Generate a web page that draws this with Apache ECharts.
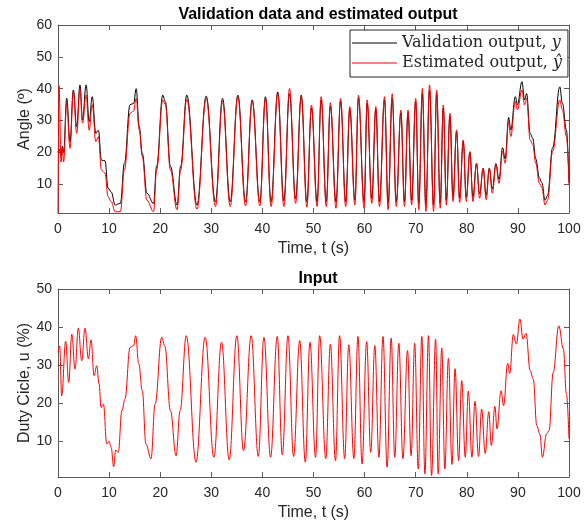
<!DOCTYPE html>
<html>
<head>
<meta charset="utf-8">
<script src="https://cdn.jsdelivr.net/npm/echarts@6/dist/echarts.min.js"></script>
<style>
  html, body { margin: 0; background: #fff; }
  #chart { width: 586px; height: 528px; }
</style>
</head>
<body>
<div id="chart"></div>
<script>
// validation / estimated output (peaks, troughs and bends)
const outT = [0, 0.2, 0.6, 0.85, 1.1, 1.7, 2.35, 3.0, 3.66, 4.3, 4.8, 5.5, 6.1, 6.7, 7.4, 7.9, 8.5, 9.2, 9.8, 10.4,
  11.2, 12.2, 13.0, 14.1, 14.8, 15.3, 15.9, 16.5, 17.4, 18.7, 19.3, 20.5, 21.0, 22.0, 23.3, 24.0, 25.2,
  27.2, 29.0, 30.8, 32.2, 33.7, 35.2, 36.7, 38.0, 39.5, 40.6, 41.7, 43.0, 44.2, 45.3, 46.5, 47.6, 48.7,
  49.6, 50.7, 51.5, 52.5, 53.3, 54.4, 55.3, 56.3, 57.1, 58.1, 58.8, 59.9, 60.5, 61.4, 62.2, 62.9, 63.9, 64.6,
  65.4, 66.2, 67.1, 67.8, 68.5, 69.2, 70.0, 70.6, 71.3, 72.0, 72.7, 73.5, 74.1, 74.8,
  75.4, 76.0, 76.7, 77.3, 78.0, 78.6, 79.3, 79.9, 80.6, 81.2, 81.9, 82.5, 83.2, 83.8, 84.4, 85.0, 85.7, 86.3,
  87.0, 87.5, 88.2, 88.6, 89.5, 89.9, 90.8, 91.3, 91.7, 92.4, 92.9, 93.5, 94.2, 94.7, 95.3, 95.8, 96.8, 98.2,
  98.7, 99.5, 100];
const yMeas = [20, 21, 19, 22, 20, 37, 23.4, 39.6, 28, 41.2, 30.2, 41.2, 29.7, 37.5, 26, 27, 17.6, 17.4, 8.8, 7.6,
  3.5, 4, 16.6, 35, 35.4, 40, 28, 19.7, 7.2, 4, 15.6, 38, 36, 15.6, 3.5, 15.6, 38,
  3.5, 37.7, 4.5, 37, 4.5, 38, 4.5, 36.5, 4.5, 37.5, 4.5, 39, 4.8, 38.5, 5.5, 38, 4.5,
  34, 4.5, 36.5, 4.5, 34.5, 4.5, 36, 4.5, 33.5, 5, 37, 4.5, 35.5, 5.5, 33.5, 4.5, 36.5, 4,
  37, 4.5, 32.5, 4.5, 32.5, 5, 36, 4, 38.5, 3.5, 39.5, 3.5, 38.5, 4,
  34, 5, 31.5, 6, 26.5, 5.8, 23.5, 6, 20, 6, 16.5, 7, 15, 6.5, 15, 8.5, 16.5, 11.5,
  21.5, 18, 31, 27, 37.5, 35, 42.2, 36.5, 38.5, 26, 24.5, 18, 12, 10.5, 5, 6.5, 21.5, 40.6,
  35.5, 27, 10.5];
const yEst = [1.0, 41, 17, 21, 17, 35.4, 21.3, 39, 26, 40, 29.2, 38, 27, 35, 23.4, 25, 14.5, 13.5, 6.1, 4.6,
  1.4, 1.4, 14.5, 32.3, 33, 37, 27, 18.7, 5, 1.4, 14.5, 36.5, 35, 14.5, 2, 14.5, 36.7,
  2.2, 37, 3, 36, 3, 37.5, 3.2, 36.3, 3.2, 37, 3, 38.4, 3, 40.1, 4, 37.5, 2.8,
  34.9, 3, 37.5, 3, 35.6, 2.5, 37, 3, 34.4, 3.5, 38, 2.5, 36.5, 4, 34.4, 3, 37.5, 2,
  38.4, 3, 33.3, 3, 33.3, 3.5, 37, 2, 40.1, 1.5, 41.2, 1.5, 39.6, 2.5,
  34.9, 3.5, 32.3, 4.6, 27.1, 4.3, 23.9, 4.6, 20.3, 4.6, 16.6, 5.6, 15, 5.1, 15, 7.2, 16.1, 10.3,
  20.3, 16.6, 29.7, 25, 36, 33.4, 39.6, 34.9, 37, 23.9, 22.5, 16.6, 10.3, 9, 3.5, 5, 20.3, 36.5,
  33.4, 25, 9.8];

// input duty cycle
const inT = [0, 0.33, 0.72, 1.5, 2.1, 2.7, 3.33, 3.98, 4.64, 5.29, 5.95, 6.47, 7.06, 7.58, 8.04, 8.43, 8.89, 9.54, 10.0, 10.4,
  10.9, 11.3, 11.8, 12.5, 13.1, 14.1, 14.8, 15.2, 15.8, 16.5, 17.2, 18.2, 19.0, 20.3, 20.9, 22.0, 23.1, 23.9, 25.1,
  27.0, 28.8, 30.5, 32.0, 33.5, 35.0, 36.3, 37.8, 39.2, 40.3, 41.6, 42.9, 43.9, 45.0, 46.1, 47.3, 48.4,
  49.3, 50.4, 51.2, 52.4, 53.3, 54.3, 55.1, 56.1, 56.9, 57.9, 58.7, 59.5, 60.4, 61.2, 62.0, 62.8, 63.6, 64.4,
  65.2, 65.9, 66.7, 67.5, 68.4, 69.1, 69.8, 70.5, 71.2, 71.8, 72.5, 73.1, 73.9, 74.4,
  75.1, 75.7, 76.4, 77.1, 77.7, 78.4, 79.0, 79.7, 80.3, 81.0, 81.6, 82.3, 82.9, 83.6, 84.3, 84.8, 85.5, 85.9,
  86.7, 87.2, 88.0, 88.4, 89.1, 89.7, 90.4, 91.0, 91.6, 92.4, 93.0, 93.7, 94.3, 94.8, 95.6, 96.1, 96.9, 98.0,
  98.9, 99.5, 100];
const uIn = [33.3, 35, 21.9, 36.2, 25.4, 38.1, 28.9, 39.7, 31.1, 39.7, 31.6, 36.6, 27.2, 29.8, 25, 18.8, 19.7, 9.2, 9.9, 8.3,
  3.2, 7.6, 7.0, 18, 21, 34.6, 35.1, 37.7, 30.3, 23.2, 9.2, 5.3, 19.7, 37.3, 35, 18, 6.1, 18, 37.7,
  4.4, 37.3, 5.7, 36, 5, 37.7, 7.4, 37.7, 5.9, 37.3, 5.7, 37.5, 6.3, 37.7, 5.9, 36.4, 4.4,
  36, 5.7, 37.7, 5.3, 35.5, 4.8, 37.7, 5.3, 35.3, 5.3, 37.5, 3.9, 36.2, 7, 35.1, 5.7, 37.5, 3.1,
  37.1, 5.7, 35.7, 5.3, 33.8, 6.1, 35.7, 2.6, 37.5, 1.3, 37.7, 0.9, 36.8, 1.3,
  34.5, 2.6, 31.8, 3.8, 29, 4.8, 25.9, 5.7, 23.1, 5.7, 20.4, 5.9, 18.4, 6.7, 17.7, 8.8, 19.1, 13.2,
  23.2, 19.3, 30.4, 27.8, 38, 35.5, 42.1, 36.8, 38.3, 28.5, 26.3, 14, 11.8, 5.7, 11.8, 12.7, 28, 40.3,
  34.2, 22.4, 10.5];

const angleTicks = [10, 20, 30, 40, 50, 60];
const dutyTicks = [10, 20, 30, 40, 50];

const axisCol = '#5a5a5a';
const textCol = '#262626';
const sans = 'Liberation Sans';
const serif = 'DejaVu Serif';

const zip = (t, v) => t.map((x, i) => [x, v[i]]);

function xAxis(grid, pos, withLabels) {
  return {
    type: 'value', gridIndex: grid, position: pos, min: 0, max: 100, interval: 10,
    axisLine: { show: true, onZero: false, lineStyle: { color: axisCol, width: 1 } },
    axisTick: { show: true, inside: true, length: 5, lineStyle: { color: axisCol } },
    axisLabel: { show: withLabels, margin: 9, color: textCol, fontSize: 14, fontFamily: sans },
    splitLine: { show: false },
    name: withLabels ? 'Time, t (s)' : '',
    nameLocation: 'middle', nameGap: 28, nameMoveOverlap: false,
    nameTextStyle: { color: textCol, fontSize: 16, fontFamily: sans }
  };
}

function yAxis(grid, pos, min, max, ticks, title) {
  return {
    type: 'value', gridIndex: grid, position: pos, min: min, max: max,
    axisLine: { show: true, onZero: false, lineStyle: { color: axisCol, width: 1 } },
    axisTick: { show: true, inside: true, length: 5, customValues: ticks, lineStyle: { color: axisCol } },
    axisLabel: { show: !!title, customValues: ticks, margin: 6, color: textCol, fontSize: 14, fontFamily: sans },
    splitLine: { show: false },
    name: title || '',
    nameLocation: 'middle', nameGap: 25, nameMoveOverlap: false,
    nameTextStyle: { color: textCol, fontSize: 16, fontFamily: sans }
  };
}

const chart = echarts.init(document.getElementById('chart'));
chart.setOption({
  animation: false,
  backgroundColor: '#fff',
  title: [
    { text: 'Validation data and estimated output', left: 313, top: 2, textAlign: 'center',
      textStyle: { fontSize: 16, fontWeight: 'bold', color: '#000', fontFamily: sans } },
    { text: 'Input', left: 313, top: 266, textAlign: 'center',
      textStyle: { fontSize: 16, fontWeight: 'bold', color: '#000', fontFamily: sans } }
  ],
  grid: [
    { left: 58, top: 25, width: 511, height: 188 },
    { left: 58, top: 289, width: 511, height: 188 }
  ],
  legend: {
    data: ['Validation output, y', 'Estimated output, ŷ'],
    orient: 'vertical', left: 350, top: 30,
    icon: 'rect', itemWidth: 45, itemHeight: 1, itemGap: 4,
    padding: [5, 6, 6, 2],
    borderColor: '#262626', borderWidth: 1, backgroundColor: '#fff',
    formatter: function (name) {
      return name === 'Validation output, y' ? '{n|Validation output, }{i|y}' : '{n|Estimated output, }{i|ŷ}';
    },
    textStyle: {
      rich: {
        n: { fontFamily: serif, fontSize: 16, color: textCol, height: 16 },
        i: { fontFamily: serif, fontSize: 16, fontStyle: 'italic', color: textCol, height: 16 }
      }
    }
  },
  xAxis: [xAxis(0, 'bottom', true), xAxis(0, 'top', false), xAxis(1, 'bottom', true), xAxis(1, 'top', false)],
  yAxis: [
    yAxis(0, 'left', 1, 60, angleTicks, 'Angle (º)'),
    yAxis(0, 'right', 1, 60, angleTicks, null),
    yAxis(1, 'left', 0.5, 50, dutyTicks, 'Duty Cicle, u (%)'),
    yAxis(1, 'right', 0.5, 50, dutyTicks, null)
  ],
  series: [
    { name: 'Validation output, y', type: 'line', xAxisIndex: 0, yAxisIndex: 0, data: zip(outT, yMeas),
      symbol: 'none', smooth: 0.4, smoothMonotone: 'x', lineStyle: { color: '#000', width: 1 }, itemStyle: { color: '#000' } },
    { name: 'Estimated output, ŷ', type: 'line', xAxisIndex: 0, yAxisIndex: 0, data: zip(outT, yEst),
      symbol: 'none', smooth: 0.4, smoothMonotone: 'x', lineStyle: { color: '#ff0000', width: 1 }, itemStyle: { color: '#ff0000' } },
    { name: 'Input', type: 'line', xAxisIndex: 2, yAxisIndex: 2, data: zip(inT, uIn),
      symbol: 'none', smooth: 0.4, smoothMonotone: 'x', lineStyle: { color: '#ff0000', width: 1 } }
  ]
});
window.addEventListener('resize', () => { chart.resize(); });
</script>
</body>
</html>
